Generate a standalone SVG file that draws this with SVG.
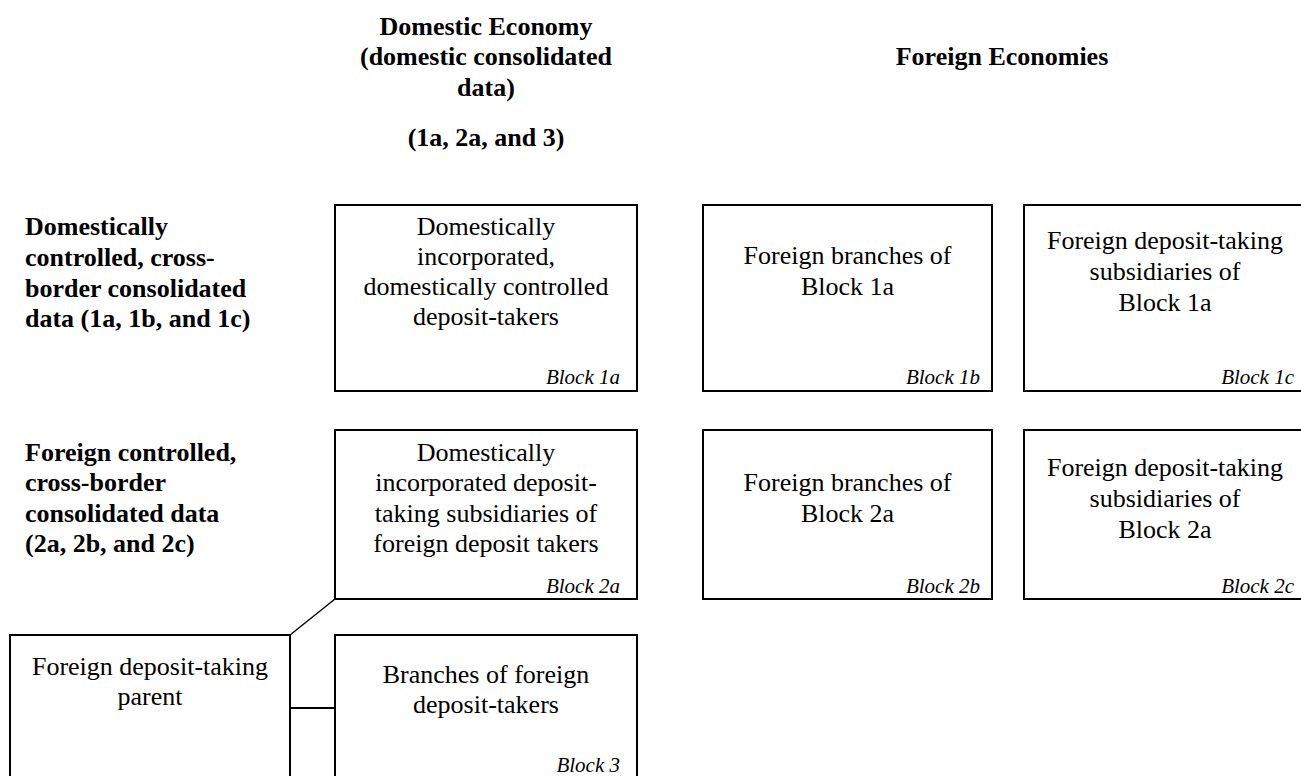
<svg xmlns="http://www.w3.org/2000/svg" width="1301" height="776" viewBox="0 0 1301 776">
<style>
  .box { fill: #ffffff; stroke: #000000; stroke-width: 2; }
  .txt { font-family: "Liberation Serif", "Times New Roman", serif; font-size: 26px; fill: #000; text-anchor: middle; }
  .hdr { font-family: "Liberation Serif", "Times New Roman", serif; font-size: 26px; font-weight: bold; fill: #000; }
  .blk { font-family: "Liberation Serif", "Times New Roman", serif; font-size: 21px; font-style: italic; fill: #000; text-anchor: end; }
  .conn { stroke: #000; fill: none; }
</style>
<rect width="1301" height="776" fill="#ffffff"/>

<g id="header-domestic">
  <text class="hdr" text-anchor="middle" x="486" y="35">Domestic Economy</text>
  <text class="hdr" text-anchor="middle" x="486" y="65">(domestic consolidated</text>
  <text class="hdr" text-anchor="middle" x="486" y="96">data)</text>
  <text class="hdr" text-anchor="middle" x="486" y="146">(1a, 2a, and 3)</text>
</g>
<g id="header-foreign">
  <text class="hdr" text-anchor="middle" x="1002" y="65">Foreign Economies</text>
</g>
<g id="row-label-1">
  <text class="hdr" x="25" y="235">Domestically</text>
  <text class="hdr" x="25" y="266">controlled, cross-</text>
  <text class="hdr" x="25" y="297">border consolidated</text>
  <text class="hdr" x="25" y="327">data (1a, 1b, and 1c)</text>
</g>
<g id="row-label-2">
  <text class="hdr" x="25" y="461">Foreign controlled,</text>
  <text class="hdr" x="25" y="491">cross-border</text>
  <text class="hdr" x="25" y="522">consolidated data</text>
  <text class="hdr" x="25" y="552">(2a, 2b, and 2c)</text>
</g>

<g id="connectors">
  <line class="conn" stroke-width="1.5" x1="290" y1="635" x2="335" y2="599"/>
  <line class="conn" stroke-width="2" x1="290" y1="708" x2="335" y2="708"/>
</g>

<g id="block-1a">
  <rect class="box" x="335" y="205" width="302" height="186"/>
  <text class="txt" x="486" y="235">Domestically</text>
  <text class="txt" x="486" y="265">incorporated,</text>
  <text class="txt" x="486" y="295">domestically controlled</text>
  <text class="txt" x="486" y="325">deposit-takers</text>
  <text class="blk" x="620" y="384">Block 1a</text>
</g>
<g id="block-1b">
  <rect class="box" x="703" y="205" width="289" height="186"/>
  <text class="txt" x="847.5" y="264">Foreign branches of</text>
  <text class="txt" x="847.5" y="295">Block 1a</text>
  <text class="blk" x="980" y="384">Block 1b</text>
</g>
<g id="block-1c">
  <rect class="box" x="1024" y="205" width="290" height="186"/>
  <text class="txt" x="1165" y="249">Foreign deposit-taking</text>
  <text class="txt" x="1165" y="280">subsidiaries of</text>
  <text class="txt" x="1165" y="311">Block 1a</text>
  <text class="blk" x="1294" y="384">Block 1c</text>
</g>
<g id="block-2a">
  <rect class="box" x="335" y="430" width="302" height="169"/>
  <text class="txt" x="486" y="461">Domestically</text>
  <text class="txt" x="486" y="491">incorporated deposit-</text>
  <text class="txt" x="486" y="522">taking subsidiaries of</text>
  <text class="txt" x="486" y="552">foreign deposit takers</text>
  <text class="blk" x="620" y="593">Block 2a</text>
</g>
<g id="block-2b">
  <rect class="box" x="703" y="430" width="289" height="169"/>
  <text class="txt" x="847.5" y="491">Foreign branches of</text>
  <text class="txt" x="847.5" y="522">Block 2a</text>
  <text class="blk" x="980" y="593">Block 2b</text>
</g>
<g id="block-2c">
  <rect class="box" x="1024" y="430" width="290" height="169"/>
  <text class="txt" x="1165" y="476">Foreign deposit-taking</text>
  <text class="txt" x="1165" y="507">subsidiaries of</text>
  <text class="txt" x="1165" y="538">Block 2a</text>
  <text class="blk" x="1294" y="593">Block 2c</text>
</g>
<g id="parent">
  <rect class="box" x="10" y="635" width="280" height="160"/>
  <text class="txt" x="150" y="675">Foreign deposit-taking</text>
  <text class="txt" x="150" y="705">parent</text>
</g>
<g id="block-3">
  <rect class="box" x="335" y="635" width="302" height="160"/>
  <text class="txt" x="486" y="683">Branches of foreign</text>
  <text class="txt" x="486" y="713">deposit-takers</text>
  <text class="blk" x="620" y="772">Block 3</text>
</g>
</svg>
